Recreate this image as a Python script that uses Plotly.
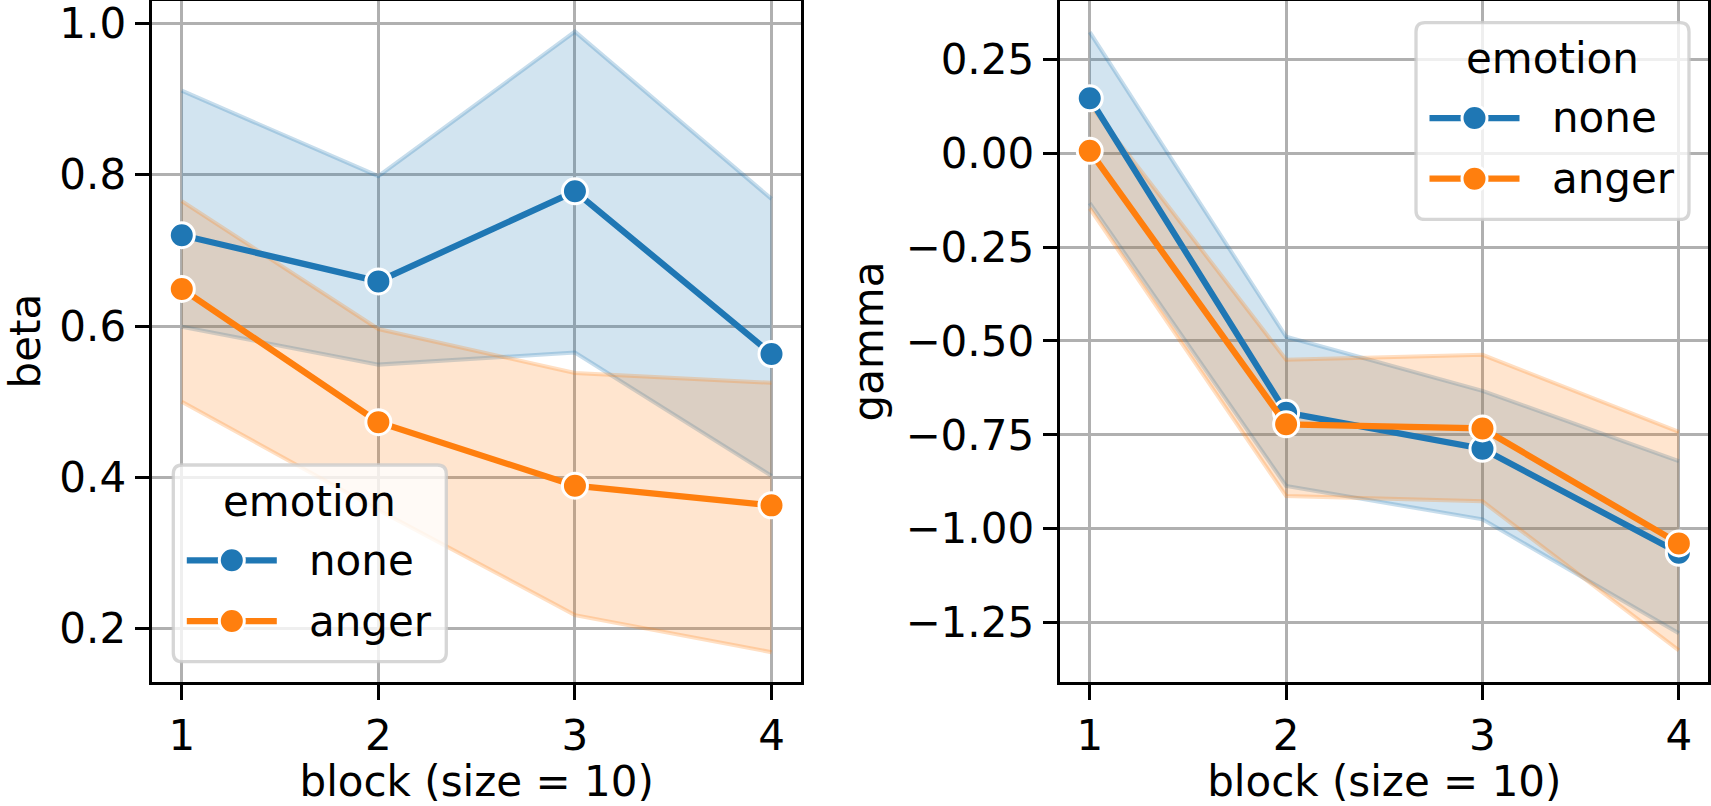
import plotly.graph_objects as go

# ---- data ----
blocks = [1, 2, 3, 4]
emotions = ["none", "anger"]

beta_none = [0.720, 0.659, 0.778, 0.563]
beta_none_lo = [0.599, 0.549, 0.565, 0.402]
beta_none_hi = [0.911, 0.798, 0.989, 0.768]
beta_anger = [0.649, 0.473, 0.389, 0.363]
beta_anger_lo = [0.500, 0.357, 0.218, 0.169]
beta_anger_hi = [0.765, 0.596, 0.538, 0.525]

gamma_none = [0.146, -0.691, -0.787, -1.064]
gamma_none_lo = [-0.133, -0.886, -0.975, -1.278]
gamma_none_hi = [0.322, -0.489, -0.633, -0.820]
gamma_anger = [0.006, -0.722, -0.733, -1.039]
gamma_anger_lo = [-0.147, -0.913, -0.927, -1.324]
gamma_anger_hi = [0.130, -0.550, -0.537, -0.742]

beta_ticks = [0.2, 0.4, 0.6, 0.8, 1.0]
gamma_ticks = [-1.25, -1.0, -0.75, -0.5, -0.25, 0.0, 0.25]

x_title = "block (size = 10)"
y_titles = ["beta", "gamma"]
legend_title = "emotion"

BLUE = "31,119,180"
ORANGE = "255,127,14"
COLORS = [f"rgb({BLUE})", f"rgb({ORANGE})"]
FONT = "DejaVu Sans"
FS = 42
W, H = 1711, 806

fig = go.Figure()


def add_band(x, lo, hi, rgb, xa, ya):
    fig.add_trace(go.Scatter(x=x, y=hi, mode="lines",
                             line=dict(color=f"rgba({rgb},0.25)", width=4),
                             showlegend=False, hoverinfo="skip",
                             xaxis=xa, yaxis=ya))
    fig.add_trace(go.Scatter(x=x, y=lo, mode="lines", fill="tonexty",
                             fillcolor=f"rgba({rgb},0.2)",
                             line=dict(color=f"rgba({rgb},0.25)", width=4),
                             showlegend=False, hoverinfo="skip",
                             xaxis=xa, yaxis=ya))


def add_line(x, y, rgb, name, xa, ya):
    fig.add_trace(go.Scatter(x=x, y=y, mode="lines+markers", name=name,
                             line=dict(color=f"rgb({rgb})", width=6.25),
                             marker=dict(size=25, color=f"rgb({rgb})",
                                         line=dict(color="white", width=3)),
                             showlegend=False,
                             xaxis=xa, yaxis=ya))


# left panel (beta)
add_band(blocks, beta_none_lo, beta_none_hi, BLUE, "x", "y")
add_band(blocks, beta_anger_lo, beta_anger_hi, ORANGE, "x", "y")
add_line(blocks, beta_none, BLUE, emotions[0], "x", "y")
add_line(blocks, beta_anger, ORANGE, emotions[1], "x", "y")

# right panel (gamma)
add_band(blocks, gamma_none_lo, gamma_none_hi, BLUE, "x2", "y2")
add_band(blocks, gamma_anger_lo, gamma_anger_hi, ORANGE, "x2", "y2")
add_line(blocks, gamma_none, BLUE, emotions[0], "x2", "y2")
add_line(blocks, gamma_anger, ORANGE, emotions[1], "x2", "y2")


def px(x):
    return x / W


def py(y):
    return 1 - y / H


# ---- legends (matplotlib-style boxes drawn in paper coordinates) ----
def legend_box(x0, y0, title, labels, colors):
    w, h, r = 273, 196.7, 9
    x1, y1 = x0 + w, y0 + h
    path = (f"M {px(x0 + r)},{py(y0)} L {px(x1 - r)},{py(y0)} "
            f"Q {px(x1)},{py(y0)} {px(x1)},{py(y0 + r)} "
            f"L {px(x1)},{py(y1 - r)} Q {px(x1)},{py(y1)} {px(x1 - r)},{py(y1)} "
            f"L {px(x0 + r)},{py(y1)} Q {px(x0)},{py(y1)} {px(x0)},{py(y1 - r)} "
            f"L {px(x0)},{py(y0 + r)} Q {px(x0)},{py(y0)} {px(x0 + r)},{py(y0)} Z")
    fig.add_shape(type="path", path=path, xref="paper", yref="paper",
                  fillcolor="rgba(255,255,255,0.8)",
                  line=dict(color="rgba(204,204,204,0.8)", width=3.3), layer="above")
    fig.add_annotation(text=title, x=px(x0 + w / 2), y=py(y0 + 36), xref="paper", yref="paper",
                       showarrow=False, xanchor="center", yanchor="middle",
                       font=dict(family=FONT, size=FS, color="black"))
    for i, (lab, col) in enumerate(zip(labels, colors)):
        yy = y0 + 95.3 + i * 60.7
        fig.add_shape(type="line", xref="paper", yref="paper",
                      x0=px(x0 + 13.5), x1=px(x0 + 103.5), y0=py(yy), y1=py(yy),
                      line=dict(color=col, width=6.25), layer="above")
        fig.add_shape(type="circle", xref="paper", yref="paper",
                      x0=px(x0 + 58.5 - 12.5), x1=px(x0 + 58.5 + 12.5),
                      y0=py(yy + 12.5), y1=py(yy - 12.5),
                      fillcolor=col, line=dict(color="white", width=3), layer="above")
        fig.add_annotation(text=lab, x=px(x0 + 134), y=py(yy), xref="paper", yref="paper",
                           showarrow=False, xanchor="left", yanchor="middle",
                           font=dict(family=FONT, size=FS, color="black"))


legend_box(173.3, 465, legend_title, emotions, COLORS)
legend_box(1416, 22.7, legend_title, emotions, COLORS)

# ---- y-axis titles ----
for title, xc in zip(y_titles, (25, 868)):
    fig.add_annotation(text=title, x=px(xc), y=py(341.5), xref="paper", yref="paper",
                       showarrow=False, xanchor="center", yanchor="middle", textangle=-90,
                       font=dict(family=FONT, size=FS, color="black"))

XL = [152.3, 801]
XR = [1060.3, 1708.3]
ydom = [1 - 682 / H, 1 - 1 / H]

axis_common = dict(
    showline=True, linecolor="black", linewidth=3.3, mirror=True,
    showgrid=True, gridcolor="#b0b0b0", gridwidth=3.3,
    ticks="outside", ticklen=14.6, tickwidth=3.3, tickcolor="black",
    tickfont=dict(family=FONT, size=FS, color="black"),
    ticklabeloverflow="allow",
    zeroline=False, automargin=False,
)

fig.update_layout(
    width=W, height=H,
    margin=dict(l=0, r=0, t=0, b=0),
    paper_bgcolor="white", plot_bgcolor="white",
    font=dict(family=FONT, size=FS, color="black"),
    showlegend=False,
    xaxis=dict(axis_common, domain=[XL[0] / W, XL[1] / W], range=[0.85, 4.15],
               tickvals=blocks, anchor="y",
               title=dict(text=x_title, font=dict(family=FONT, size=FS, color="black"))),
    yaxis=dict(axis_common, domain=ydom, range=[0.1296, 1.0295],
               tickvals=beta_ticks, tickformat=".1f", anchor="x"),
    xaxis2=dict(axis_common, domain=[XR[0] / W, XR[1] / W], range=[0.85, 4.15],
                tickvals=blocks, anchor="y2",
                title=dict(text=x_title, font=dict(family=FONT, size=FS, color="black"))),
    yaxis2=dict(axis_common, domain=ydom, range=[-1.408, 0.405],
                tickvals=gamma_ticks, tickformat=".2f", anchor="x2"),
)

fig.write_html("out.html")
